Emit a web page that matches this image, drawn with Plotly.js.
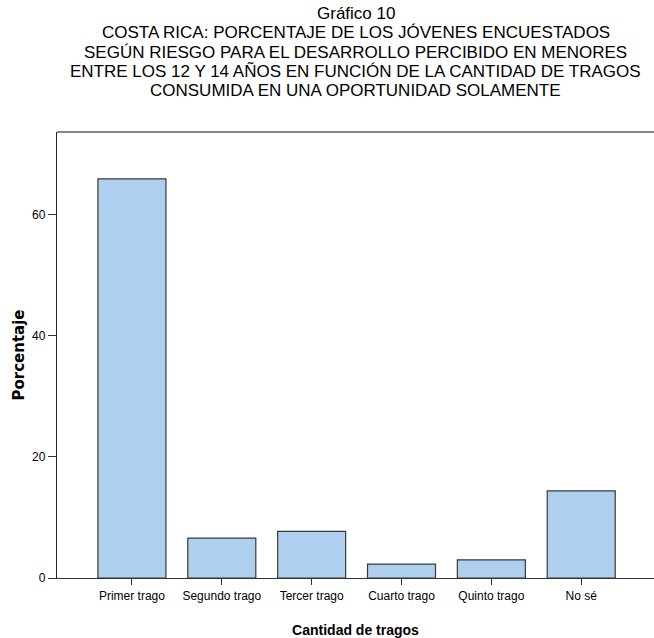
<!DOCTYPE html>
<html>
<head>
<meta charset="utf-8">
<script src="https://cdn.plot.ly/plotly-3.0.1.min.js"></script>
<style>html,body{margin:0;padding:0;background:#fff;}#chart{width:654px;height:638px;}</style>
</head>
<body>
<div id="chart"></div>
<script>
const categories = ["Primer trago", "Segundo trago", "Tercer trago", "Cuarto trago", "Quinto trago", "No sé"];
const porcentaje = [65.9, 6.6, 7.7, 2.3, 3.0, 14.4];
const yTicks = [0, 20, 40, 60];
const titleLines = [
  "Gráfico 10",
  "COSTA RICA: PORCENTAJE DE LOS JÓVENES ENCUESTADOS",
  "SEGÚN RIESGO PARA EL DESARROLLO PERCIBIDO EN MENORES",
  "ENTRE LOS 12 Y 14 AÑOS EN FUNCIÓN DE LA CANTIDAD DE TRAGOS",
  "CONSUMIDA EN UNA OPORTUNIDAD SOLAMENTE"
];

const sans = "'Liberation Sans', Arial, sans-serif";

const trace = {
  type: "bar",
  x: categories.map((c, i) => i),
  y: porcentaje,
  width: 0.757,
  marker: { color: "#aecfee", line: { color: "#3a3a3a", width: 1.2 } },
  hoverinfo: "x+y"
};

// title lines as stacked annotations (tight line spacing like the reference)
const titleY = [1.265, 1.222, 1.179, 1.136, 1.093];
const annotations = titleLines.map((t, i) => ({
  text: t, xref: "paper", yref: "paper", x: 0.5, y: titleY[i],
  xanchor: "center", yanchor: "middle", showarrow: false,
  font: { family: sans, size: 17, color: "#000" }
}));

const layout = {
  width: 654, height: 638,
  margin: { l: 57, r: 0, t: 132, b: 60 },
  paper_bgcolor: "#ffffff",
  plot_bgcolor: "#ffffff",
  showlegend: false,
  annotations: annotations,
  xaxis: {
    range: [-0.834, 5.81],
    tickvals: categories.map((c, i) => i),
    ticktext: categories,
    ticks: "outside", ticklen: 6, tickcolor: "#333", tickwidth: 1,
    showline: true, linecolor: "#333", linewidth: 1.2,
    showgrid: false, zeroline: false,
    tickfont: { family: sans, size: 12, color: "#000" },
    title: { text: "<b>Cantidad de tragos</b>", font: { family: sans, size: 14, color: "#000" }, standoff: 25 }
  },
  yaxis: {
    range: [0, 73.65],
    tickvals: yTicks,
    ticks: "outside", ticklen: 8, tickcolor: "#333", tickwidth: 1,
    showline: true, linecolor: "#222", linewidth: 1.2,
    showgrid: false, zeroline: false,
    tickfont: { family: sans, size: 12, color: "#000" },
    title: { text: "<b>Porcentaje</b>", font: { family: "'DejaVu Sans', Verdana, sans-serif", size: 15, color: "#000" }, standoff: 3 }
  },
  shapes: [
    { type: "line", xref: "paper", yref: "paper", x0: 0, x1: 1, y0: 1, y1: 1, line: { color: "#888", width: 2 } }
  ]
};

Plotly.newPlot("chart", [trace], layout, { displayModeBar: false, staticPlot: true });
</script>
</body>
</html>
